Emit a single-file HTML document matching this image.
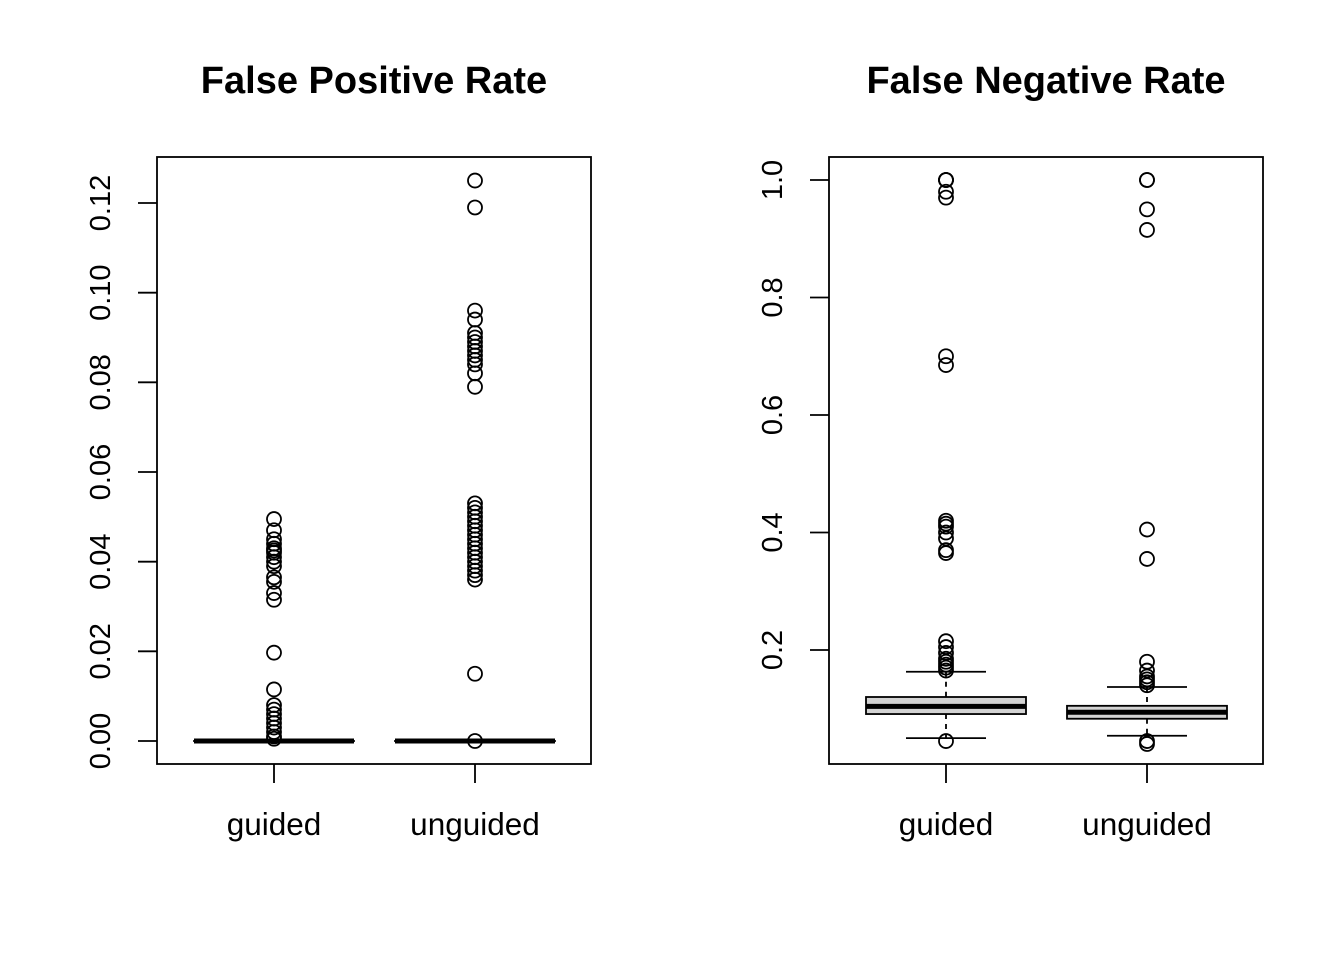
<!DOCTYPE html>
<html><head><meta charset="utf-8"><style>
body{margin:0;background:#fff}
svg{display:block}
text{font-family:"Liberation Sans",Arial,sans-serif;fill:#000}
</style></head><body>
<svg id="chart" width="1344" height="960"></svg>
<script>
const categories = ["guided","unguided"];
// False Positive Rate stats: [lowWhisker, q1, median, q3, highWhisker]
const fprStats = [[0,0,0,0,0],[0,0,0,0,0]];
const fprOutGuided = [0.0495,0.047,0.045,0.044,0.043,0.0425,0.042,0.041,0.040,0.039,0.0365,0.0355,0.033,0.0315,0.0197,0.0115,0.008,0.007,0.006,0.005,0.004,0.003,0.002,0.001,0.0005];
const fprOutUnguided = [0.125,0.119,0.096,0.094,0.091,0.090,0.089,0.088,0.087,0.086,0.085,0.084,0.082,0.079,0.053,0.052,0.051,0.050,0.049,0.048,0.047,0.046,0.045,0.044,0.043,0.042,0.041,0.040,0.039,0.038,0.037,0.036,0.015,0.0];
const fprTicks = [0,0.02,0.04,0.06,0.08,0.10,0.12];
const fprTickLabels = ["0.00","0.02","0.04","0.06","0.08","0.10","0.12"];
// False Negative Rate
const fnrStats = [[0.050,0.091,0.104,0.120,0.163],[0.054,0.083,0.094,0.105,0.137]];
const fnrOutGuided = [1.0,1.0,1.0,0.98,0.97,0.70,0.685,0.42,0.415,0.41,0.40,0.39,0.37,0.365,0.215,0.205,0.195,0.185,0.18,0.175,0.17,0.165,0.045];
const fnrOutUnguided = [1.0,1.0,0.95,0.915,0.405,0.355,0.18,0.165,0.155,0.15,0.145,0.14,0.045,0.04];
const fnrTicks = [0.2,0.4,0.6,0.8,1.0];
const fnrTickLabels = ["0.2","0.4","0.6","0.8","1.0"];

const NS="http://www.w3.org/2000/svg";
const svg=document.getElementById('chart');
function mk(tag,attrs,parent){const e=document.createElementNS(NS,tag);for(const k in attrs)e.setAttribute(k,attrs[k]);(parent||svg).appendChild(e);return e;}

function panel(o){
  const g=mk('g',{});
  
  
  const y=v=>o.y0+(v-o.v0)*(o.y1-o.y0)/(o.v1-o.v0);
  const x=i=>o.cx[i];
  const frame=mk('rect',{x:o.left,y:157,width:434,height:607,fill:'none',stroke:'#000','stroke-width':1.8},g);
  
  
  const t=mk('text',{x:o.left+217,y:93,'text-anchor':'middle','font-size':'38','font-weight':'bold'},g);
  t.textContent=o.title;
  
  
  o.ticks.forEach((v,i)=>{
    const yy=y(v);
    const tk=mk('line',{x1:o.left-19,x2:o.left,y1:yy,y2:yy,stroke:'#000','stroke-width':1.8},g);
    
    
    const lb=mk('text',{x:0,y:0,'text-anchor':'middle','font-size':'29',transform:`translate(${o.left-47},${yy}) rotate(-90)`},g);
    lb.textContent=o.labels[i];
    
    
  });
  categories.forEach((c,i)=>{
    const cx=x(i);
    const tk=mk('line',{x1:cx,x2:cx,y1:764,y2:783,stroke:'#000','stroke-width':1.8},g);
    
    
    const lb=mk('text',{x:cx,y:835,'text-anchor':'middle','font-size':'31.5'},g);
    lb.textContent=c;
    
    
    const s=o.stats[i];const hw=80, ww=40;
    const bg=mk('g',{},g);
    
    
    mk('line',{x1:cx,x2:cx,y1:y(s[4]),y2:y(s[3]),stroke:'#000','stroke-width':1.8,'stroke-dasharray':'5,5'},bg);
    mk('line',{x1:cx,x2:cx,y1:y(s[1]),y2:y(s[0]),stroke:'#000','stroke-width':1.8,'stroke-dasharray':'5,5'},bg);
    mk('line',{x1:cx-ww,x2:cx+ww,y1:y(s[4]),y2:y(s[4]),stroke:'#000','stroke-width':1.8},bg);
    mk('line',{x1:cx-ww,x2:cx+ww,y1:y(s[0]),y2:y(s[0]),stroke:'#000','stroke-width':1.8},bg);
    mk('rect',{x:cx-hw,y:y(s[3]),width:2*hw,height:Math.max(0.01,y(s[1])-y(s[3])),fill:'#d3d3d3',stroke:'#000','stroke-width':1.8},bg);
    mk('line',{x1:cx-hw,x2:cx+hw,y1:y(s[2]),y2:y(s[2]),stroke:'#000','stroke-width':5},bg);
    o.outs[i].forEach(v=>{
      const p=mk('circle',{cx:cx,cy:y(v),r:7,fill:'none',stroke:'#000','stroke-width':1.8},g);
      
      
    });
  });
}
panel({name:'false-positive-rate-panel',title:'False Positive Rate',left:157,cx:[274,475],
  v0:0,v1:0.12,y0:741,y1:203,ticks:fprTicks,labels:fprTickLabels,stats:fprStats,outs:[fprOutGuided,fprOutUnguided]});
panel({name:'false-negative-rate-panel',title:'False Negative Rate',left:829,cx:[946,1147],
  v0:0.2,v1:1.0,y0:650,y1:180,ticks:fnrTicks,labels:fnrTickLabels,stats:fnrStats,outs:[fnrOutGuided,fnrOutUnguided]});
</script>
</body></html>
